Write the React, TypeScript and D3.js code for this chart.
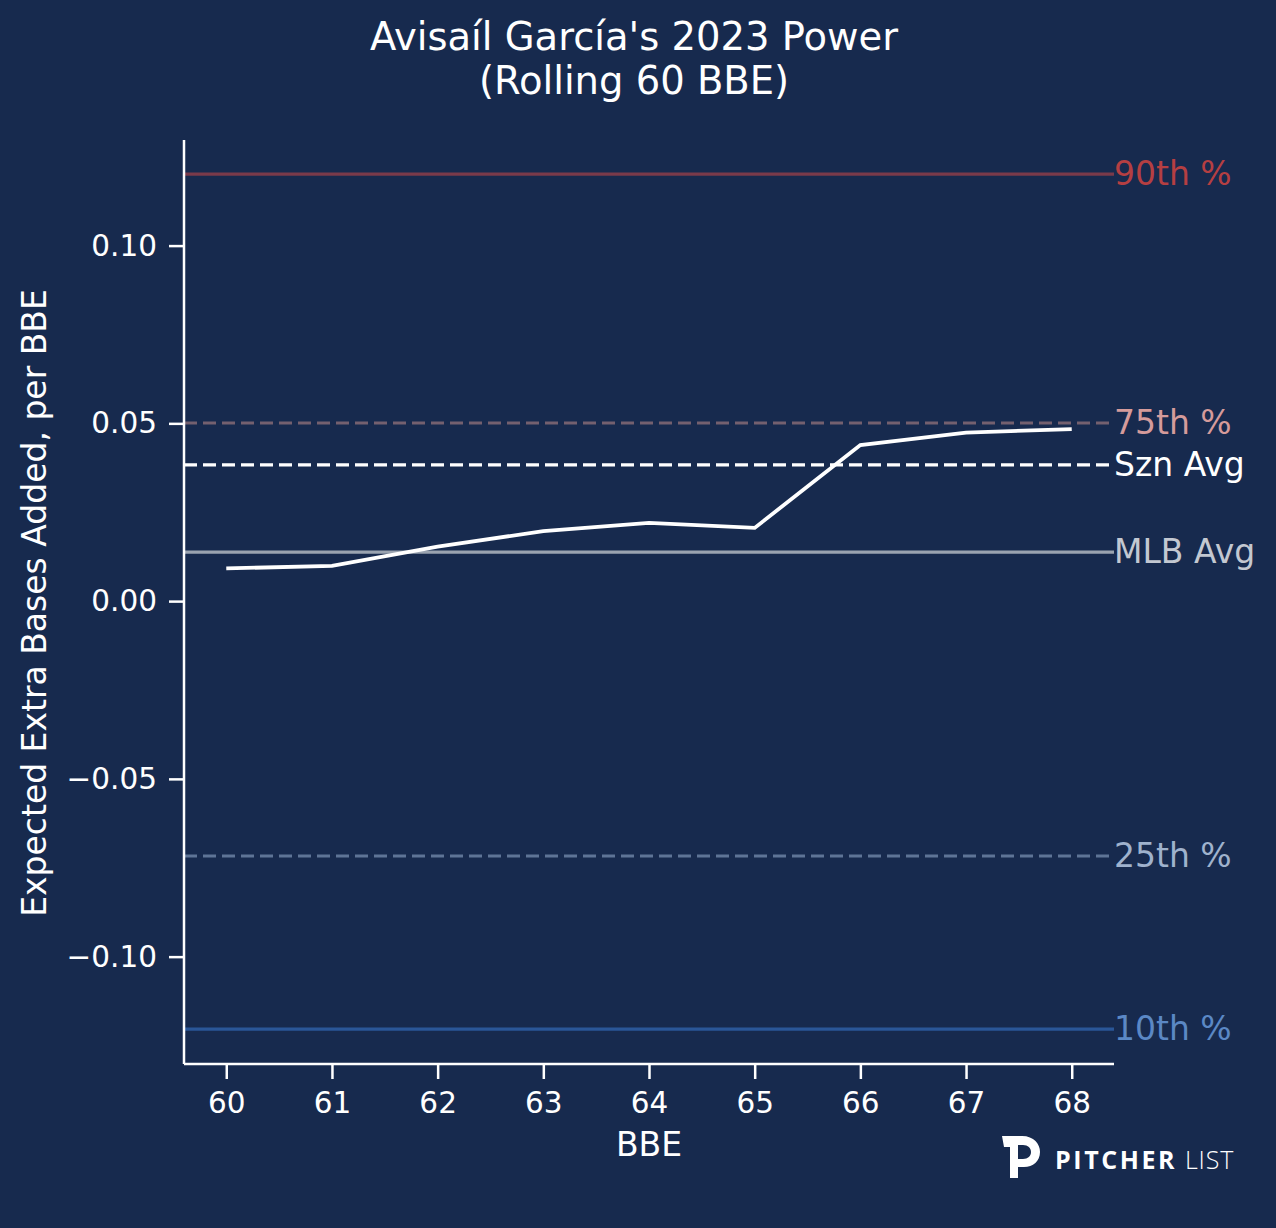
import React, { useEffect, useRef } from 'react';
import * as d3 from 'd3';

// rolling 60 BBE values
const bbe = [60, 61, 62, 63, 64, 65, 66, 67, 68];
const xebaValues = [0.0092, 0.0099, 0.0153, 0.0197, 0.022, 0.0206, 0.0439, 0.0474, 0.0484];

const yTicks = [-0.1, -0.05, 0, 0.05, 0.1];

const refLabels = ['90th %', '75th %', 'Szn Avg', 'MLB Avg', '25th %', '10th %'];
const refValues = [0.1201, 0.0501, 0.0383, 0.0138, -0.0717, -0.1204];
const refLineColors = ['#7a3a4a', '#74606f', '#ffffff', '#9aa3b0', '#5e7496', '#2a5697'];
const refTextColors = ['#b53f42', '#d59b9b', '#ffffff', '#c3c8d1', '#9fb2cd', '#5b88c5'];
const refDashed = [false, true, true, false, true, false];

const BG = '#172a4e';
const FONT = '"DejaVu Sans", sans-serif';

const App: React.FC = () => {
  const svgRef = useRef<SVGSVGElement>(null);

  useEffect(() => {
    document.body.style.margin = '0';
    if (!svgRef.current) return;
    const svg = d3.select(svgRef.current);
    svg.selectAll('*').remove();

    const left = 184, right = 1114, top = 140, bottom = 1064;

    const x = d3.scaleLinear().domain([59.6, 68.4]).range([left, right]);
    const y = d3.scaleLinear().domain([-0.1302, 0.1297]).range([bottom, top]);

    svg.append('rect').attr('width', 1276).attr('height', 1228).attr('fill', BG);

    // title
    const title = svg.append('text')
      .attr('text-anchor', 'middle')
      .attr('fill', '#fff').attr('font-family', FONT).attr('font-size', 38.5);
    title.append('tspan').attr('x', 634).attr('y', 50).text("Avisaíl García's 2023 Power");
    title.append('tspan').attr('x', 634).attr('y', 94).text('(Rolling 60 BBE)');

    // reference lines
    const refs = refLabels.map((label, i) => ({
      label, v: refValues[i], line: refLineColors[i], text: refTextColors[i], dashed: refDashed[i],
    }));
    const rg = svg.append('g');
    rg.selectAll('line')
      .data(refs)
      .enter()
      .append('line')
      .attr('x1', left).attr('x2', right)
      .attr('y1', d => y(d.v)).attr('y2', d => y(d.v))
      .attr('stroke', d => d.line)
      .attr('stroke-width', 3.2)
      .attr('stroke-dasharray', d => (d.dashed ? '13 6' : null));

    rg.selectAll('text')
      .data(refs)
      .enter()
      .append('text')
      .attr('x', right)
      .attr('y', d => y(d.v) + 11)
      .attr('fill', d => d.text)
      .attr('font-family', FONT)
      .attr('font-size', 33)
      .text(d => d.label);

    // main line
    const line = d3.line<number>()
      .x((_, i) => x(bbe[i]))
      .y(d => y(d));
    svg.append('path')
      .datum(xebaValues)
      .attr('d', line)
      .attr('fill', 'none')
      .attr('stroke', '#fff')
      .attr('stroke-width', 3.8);

    // axes
    const yAxis = svg.append('g')
      .attr('transform', `translate(${left},0)`)
      .call(d3.axisLeft(y).tickValues(yTicks).tickSize(15).tickPadding(12)
        .tickFormat(d => d3.format('.2f')(d as number).replace('-', '\u2212')));
    const xAxis = svg.append('g')
      .attr('transform', `translate(0,${bottom})`)
      .call(d3.axisBottom(x).tickValues(bbe).tickSize(15).tickPadding(13).tickFormat(d3.format('d')));

    [yAxis, xAxis].forEach(ax => {
      ax.select('.domain').attr('stroke', '#fff').attr('stroke-width', 2.5);
      ax.selectAll('.tick line').attr('stroke', '#fff').attr('stroke-width', 2.5);
      ax.selectAll('.tick text')
        .attr('fill', '#fff').attr('font-family', FONT).attr('font-size', 29.5);
    });
    yAxis.select('.domain').attr('d', `M0,${top}V${bottom}`);
    xAxis.select('.domain').attr('d', `M${left},0H${right}`);

    // axis titles
    svg.append('text')
      .attr('x', 649).attr('y', 1156)
      .attr('text-anchor', 'middle')
      .attr('fill', '#fff').attr('font-family', FONT).attr('font-size', 33)
      .text('BBE');
    svg.append('text')
      .attr('transform', 'translate(46,603) rotate(-90)')
      .attr('text-anchor', 'middle')
      .attr('fill', '#fff').attr('font-family', FONT).attr('font-size', 33)
      .text('Expected Extra Bases Added, per BBE');

    // logo
    const logo = svg.append('g').attr('transform', 'translate(1002,1136)');
    logo.append('path')
      .attr('d', 'M0,0 H20 C32,0 38,8 38,16 C38,25 31,31 22,31 H16 V42 H8 V11 H2 Z M16,9 V23 H21 C26,23 29,20 29,16 C29,12 26,9 21,9 Z')
      .attr('fill', '#fff');
    const lt = logo.append('text')
      .attr('y', 33)
      .attr('fill', '#fff').attr('font-family', '"Open Sans", sans-serif').attr('font-size', 25);
    lt.append('tspan').attr('x', 53).attr('font-weight', 700).attr('letter-spacing', 2.6).text('PITCHER');
    lt.append('tspan').attr('x', 183).attr('font-weight', 300).attr('letter-spacing', 0.8).text('LIST');
  }, []);

  return (
    <svg
      ref={svgRef}
      width={1276}
      height={1228}
      style={{ position: 'absolute', top: 0, left: 0, display: 'block' }}
    />
  );
};

export default App;
